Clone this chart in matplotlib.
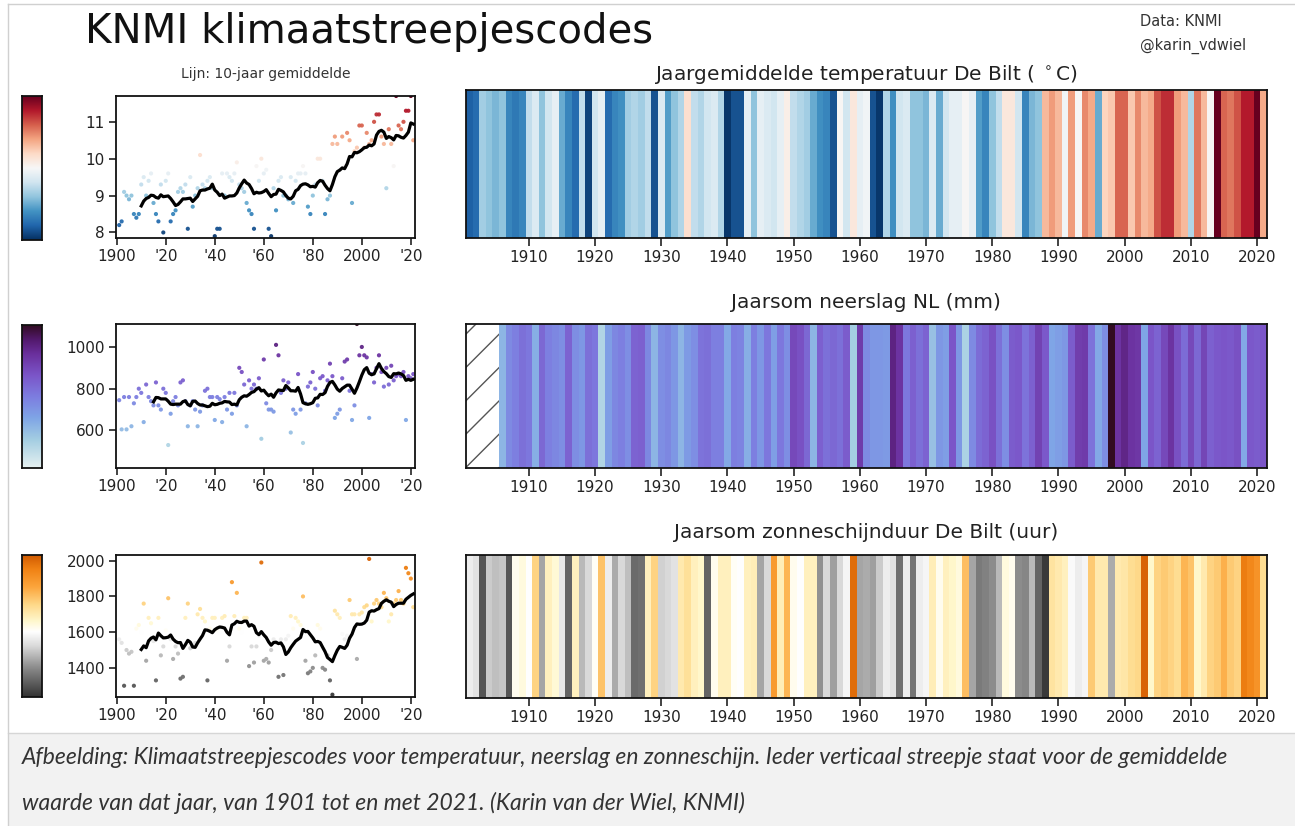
import numpy as np
import pandas as pd
import matplotlib
matplotlib.use("Agg")
import matplotlib.pyplot as plt
from matplotlib.colors import LinearSegmentedColormap, Normalize
from matplotlib.patches import Rectangle
from matplotlib.lines import Line2D

# ---------------- data ----------------
years = np.arange(1901, 2022)

temp = [
    8.2, 8.3, 9.1, 9.0, 8.9, 9.0, 8.5, 8.4, 8.5, 9.3,
    9.5, 9.0, 9.4, 9.6, 8.8, 8.5, 8.3, 9.3, 8.0, 9.4,
    9.6, 8.3, 8.5, 8.6, 9.1, 9.2, 9.1, 9.3, 8.1, 9.5,
    8.7, 9.0, 9.2, 10.1, 9.3, 9.2, 9.4, 9.5, 9.2, 7.9,
    8.1, 8.1, 9.6, 9.0, 9.6, 9.5, 9.4, 9.6, 9.9, 9.3,
    9.2, 9.1, 8.8, 8.6, 8.5, 8.1, 9.8, 9.4, 10.0, 9.6,
    9.7, 8.1, 7.9, 9.2, 8.6, 9.4, 9.5, 9.0, 9.0, 8.9,
    9.5, 8.8, 9.4, 9.6, 9.6, 9.8, 9.6, 8.7, 8.5, 9.0,
    9.3, 10.0, 10.0, 9.4, 8.5, 8.9, 9.0, 10.4, 10.6, 10.4,
    9.7, 10.6, 9.8, 10.7, 10.5, 8.8, 10.2, 10.3, 10.9, 10.9,
    10.3, 10.7, 10.4, 10.5, 11.0, 11.2, 11.2, 10.6, 10.4, 9.2,
    10.8, 10.4, 9.8, 11.7, 10.9, 10.8, 11.0, 11.3, 11.3, 11.7,
    10.5,
]

prec = [
    745, 605, 760, 605, 760, 620, 730, 760, 800, 780,
    640, 820, 760, 740, 720, 830, 720, 700, 800, 780,
    530, 680, 740, 760, 720, 830, 840, 740, 620, 720,
    740, 700, 620, 690, 720, 790, 800, 760, 760, 650,
    760, 750, 640, 760, 700, 780, 680, 780, 720, 900,
    880, 820, 620, 840, 800, 820, 800, 850, 560, 940,
    730, 700, 700, 690, 1010, 960, 780, 840, 800, 830,
    590, 700, 680, 870, 700, 540, 730, 810, 830, 880,
    800, 720, 850, 860, 790, 840, 920, 860, 660, 680,
    700, 850, 930, 940, 790, 650, 720, 1110, 960, 1000,
    960, 950, 660, 870, 830, 900, 960, 880, 810, 900,
    820, 910, 840, 860, 870, 860, 880, 650, 860, 850,
    870,
]
prec_stripe_start = 1906   # stripes only from this year on (earlier hatched)

sun = [
    1560, 1540, 1300, 1500, 1480, 1490, 1300, 1620, 1640, 1600,
    1760, 1440, 1680, 1650, 1550, 1330, 1680, 1470, 1520, 1610,
    1790, 1560, 1450, 1520, 1480, 1340, 1350, 1680, 1760, 1510,
    1520, 1540, 1700, 1730, 1680, 1660, 1330, 1620, 1680, 1680,
    1610, 1600, 1680, 1690, 1440, 1520, 1880, 1690, 1820, 1620,
    1600, 1680, 1680, 1410, 1520, 1430, 1520, 1580, 1990, 1440,
    1450, 1430, 1500, 1560, 1540, 1350, 1560, 1360, 1560, 1580,
    1690, 1620, 1680, 1660, 1640, 1800, 1440, 1370, 1380, 1400,
    1470, 1640, 1620, 1400, 1390, 1470, 1330, 1250, 1720, 1700,
    1680, 1590, 1560, 1580, 1780, 1700, 1700, 1450, 1700, 1710,
    1740, 1750, 2010, 1660, 1760, 1780, 1760, 1740, 1820, 1790,
    1660, 1700, 1760, 1780, 1830, 1780, 1760, 1960, 1930, 1900,
    1740,
]

left_xticks = [1900, 1920, 1940, 1960, 1980, 2000, 2020]
left_xticklabels = ["1900", "'20", "'40", "'60", "'80", "2000", "'20"]
stripe_xticks = [1910, 1920, 1930, 1940, 1950, 1960, 1970, 1980, 1990, 2000, 2010, 2020]

titles = ["Jaargemiddelde temperatuur De Bilt ( $^\\circ$C)",
          "Jaarsom neerslag NL (mm)",
          "Jaarsom zonneschijnduur De Bilt (uur)"]

# ---------------- colormaps ----------------
cmap_t = plt.get_cmap("RdBu_r")
cmap_p = LinearSegmentedColormap.from_list("dense_like", [
    (0.00, "#e6f1f1"), (0.20, "#a3cde2"), (0.35, "#7fa5e6"), (0.50, "#7d7de0"),
    (0.65, "#7b55c8"), (0.80, "#6a2f9c"), (0.90, "#52196c"), (1.00, "#320c22")])
sun_lo, sun_hi = 1237, 2032
def f(v):
    return (v - sun_lo) / (sun_hi - sun_lo)
cmap_s = LinearSegmentedColormap.from_list("sun", [
    (0.0, "#333333"), (f(1400), "#8c8c8c"), (f(1520), "#d9d9d9"), (f(1600), "#ffffff"),
    (f(1660), "#fff7cc"), (f(1750), "#fed98a"), (f(1850), "#fca53c"),
    (f(1950), "#f08214"), (1.0, "#cf5800")])

rows = [
    dict(vals=np.array(temp, float), cmap=cmap_t, lim=(7.85, 11.7), yticks=[8, 9, 10, 11],
         start=1901, sc=(116, 96, 415, 238), cb=(22, 96, 42, 240), st=(466, 90, 1267, 238),
         ty=75),
    dict(vals=np.array(prec, float), cmap=cmap_p, lim=(420, 1110), yticks=[600, 800, 1000],
         start=prec_stripe_start, sc=(116, 324, 415, 468), cb=(22, 325, 42, 468),
         st=(466, 324, 1267, 468), ty=303),
    dict(vals=np.array(sun, float), cmap=cmap_s, lim=(sun_lo, sun_hi), yticks=[1400, 1600, 1800, 2000],
         start=1901, sc=(116, 555, 415, 697), cb=(22, 555, 42, 697), st=(466, 555, 1267, 698),
         ty=533),
]

# ---------------- figure ----------------
W, H = 1295, 826
fig = plt.figure(figsize=(W / 100, H / 100), dpi=100)
fig.patch.set_facecolor("white")

def add_px(box):
    x0, y0, x1, y1 = box
    return fig.add_axes([x0 / W, 1 - y1 / H, (x1 - x0) / W, (y1 - y0) / H])

# page decoration (caption box and borders)
fig.add_artist(Rectangle((8 / W, 0), 1 - 8 / W, (H - 733) / H, transform=fig.transFigure,
                         facecolor="#f2f2f2", edgecolor="none", zorder=0))
fig.add_artist(Line2D([8 / W, 1], [1 - 733 / H] * 2, transform=fig.transFigure, color="#d6d6d6", lw=1))
fig.add_artist(Line2D([8 / W, 8 / W], [0, 1 - 4 / H], transform=fig.transFigure, color="#d0d0d0", lw=1))
fig.add_artist(Line2D([8 / W, 1], [1 - 4 / H] * 2, transform=fig.transFigure, color="#d0d0d0", lw=1))

tick_col = "#222222"
for i, r in enumerate(rows):
    vals = r["vals"]
    norm = Normalize(*r["lim"])
    ser = pd.Series(vals, index=years)

    # ---- scatter + 10-yr mean ----
    ax = add_px(r["sc"])
    ax.scatter(years, vals, c=vals, cmap=r["cmap"], norm=norm, s=9, edgecolors="none",
               alpha=0.95, zorder=2)
    sub = ser[ser.index >= r["start"]]
    rm = sub.rolling(10).mean()
    ax.plot(rm.index, rm.values, color="black", lw=2.3, zorder=3)
    ax.set_xlim(1899.7, 2021.7)
    ax.set_ylim(*r["lim"])
    ax.set_xticks(left_xticks)
    ax.set_xticklabels(left_xticklabels)
    ax.set_yticks(r["yticks"])
    ax.tick_params(direction="out", length=5, width=1.2, labelsize=11, colors=tick_col, pad=3)
    for sp in ax.spines.values():
        sp.set_linewidth(1.3)
        sp.set_color("#111111")
    if i == 0:
        ax.set_title("Lijn: 10-jaar gemiddelde", fontsize=10, color="#333333", pad=13)

    # ---- colourbar ----
    cax = add_px(r["cb"])
    grad = np.linspace(r["lim"][0], r["lim"][1], 256)[:, None]
    cax.imshow(grad, aspect="auto", origin="lower", cmap=r["cmap"], norm=norm,
               extent=[0, 1, r["lim"][0], r["lim"][1]])
    cax.set_xticks([])
    cax.set_yticks([])
    for sp in cax.spines.values():
        sp.set_linewidth(1.3)
        sp.set_color("#111111")

    # ---- stripes ----
    sax = add_px(r["st"])
    edges = np.append(years - 0.5, years[-1] + 0.5)
    svals = np.ma.masked_where(years < r["start"], vals)
    sax.pcolormesh(edges, [0, 1], svals[np.newaxis, :], cmap=r["cmap"], norm=norm,
                   shading="flat", antialiased=False, linewidth=0)
    if r["start"] > 1901:
        sax.axvspan(1900.5, r["start"] - 0.5, facecolor="white", edgecolor="#555555",
                    hatch="/", lw=0)
    sax.set_xlim(1900.5, 2021.5)
    sax.set_ylim(0, 1)
    sax.set_yticks([])
    sax.set_xticks(stripe_xticks)
    sax.tick_params(axis="x", direction="out", length=6, width=1.2, labelsize=11,
                    colors=tick_col, pad=3)
    for sp in sax.spines.values():
        sp.set_linewidth(1.3)
        sp.set_color("#111111")
    fig.text(866 / W, 1 - r["ty"] / H, titles[i], ha="center", va="center",
             fontsize=14.5, color="#222222")

# ---------------- header texts ----------------
fig.text(85 / W, 1 - 32 / H, "KNMI klimaatstreepjescodes", fontsize=29,
         ha="left", va="center", color="#111111")
fig.text(1140 / W, 1 - 22 / H, "Data: KNMI", fontsize=10.5, ha="left", va="center", color="#333333")
fig.text(1140 / W, 1 - 46 / H, "@karin_vdwiel", fontsize=10.5, ha="left", va="center", color="#333333")

# ---------------- caption ----------------
cap1 = ("Afbeelding: Klimaatstreepjescodes voor temperatuur, neerslag en zonneschijn. "
        "Ieder verticaal streepje staat voor de gemiddelde")
cap2 = "waarde van dat jaar, van 1901 tot en met 2021. (Karin van der Wiel, KNMI)"
t1 = fig.text(22 / W, 1 - 757 / H, cap1, fontsize=14, family="Lato", style="italic",
              ha="left", va="center", color="#333333")
t2 = fig.text(22 / W, 1 - 803 / H, cap2, fontsize=14, family="Lato", style="italic",
              ha="left", va="center", color="#333333")
fig.canvas.draw()
w = t1.get_window_extent().width
fs = 14 * (1212 / w)
t1.set_fontsize(fs)
t2.set_fontsize(fs)

fig.savefig("out.png", dpi=100, facecolor="white")
